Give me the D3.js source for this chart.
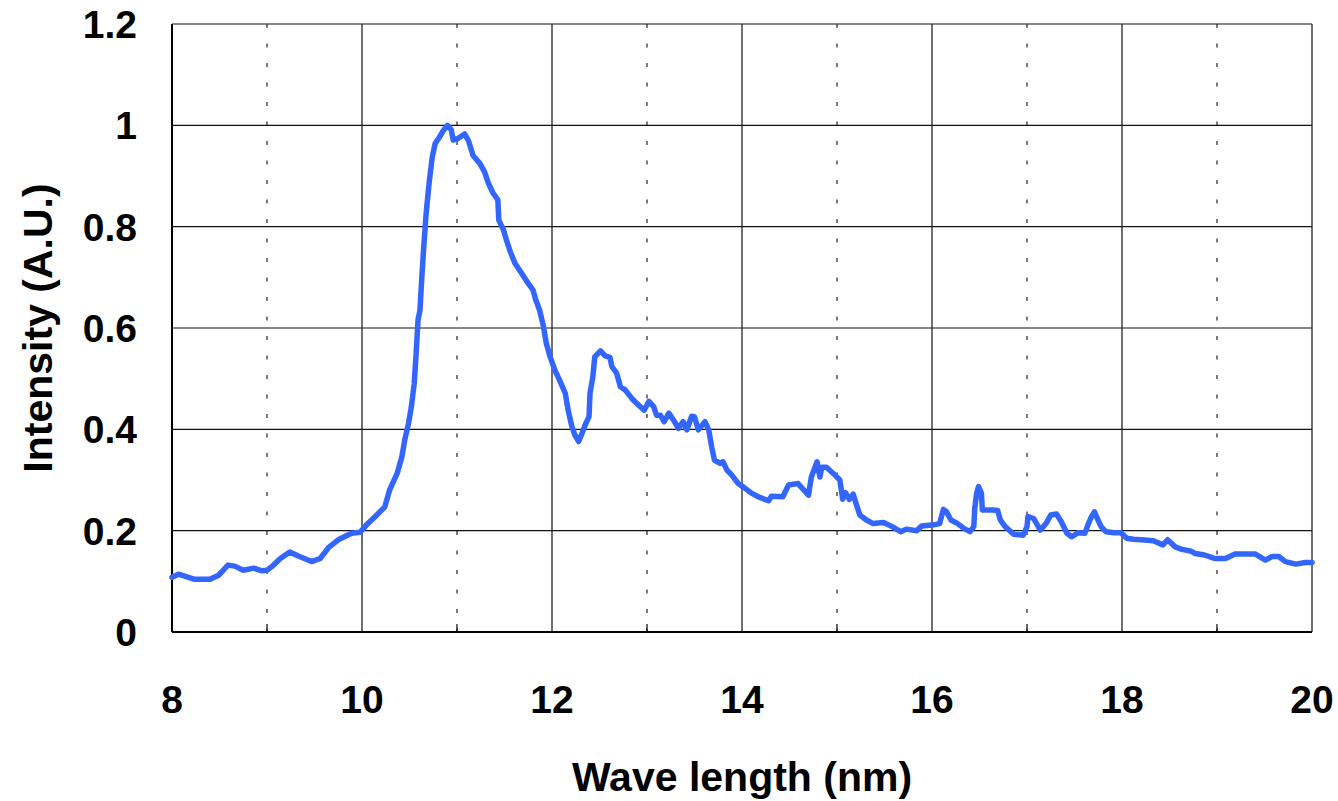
<!DOCTYPE html>
<html lang="en">
<head>
    <meta charset="UTF-8">
    <title>Intensity vs Wave length</title>
    <script src="https://d3js.org/d3.v7.min.js"></script>
    <style>
        body { margin: 0; background: #fff; }
        svg text { font-family: "Liberation Sans", Arial, sans-serif; font-weight: bold; fill: #000; }
    </style>
</head>
<body>
<div id="chart"></div>
<script>
    // spectrum
    const wavelength = [
        8.00, 8.07, 8.14, 8.24, 8.40, 8.49, 8.56, 8.59, 8.66, 8.75, 8.86, 8.94, 9.00, 9.05, 9.14, 9.24,
        9.33, 9.47, 9.56, 9.65, 9.75, 9.89, 9.98, 10.05, 10.14, 10.24, 10.29, 10.37, 10.42, 10.45, 10.49,
        10.52, 10.55, 10.57, 10.59, 10.61, 10.63, 10.65, 10.67, 10.68, 10.71, 10.74, 10.77, 10.82, 10.86,
        10.90, 10.94, 10.96, 11.01, 11.08, 11.12, 11.17, 11.24, 11.29, 11.33, 11.38, 11.43, 11.44, 11.49,
        11.52, 11.56, 11.61, 11.68, 11.75, 11.80, 11.83, 11.87, 11.91, 11.94, 11.98, 12.03, 12.08, 12.14,
        12.17, 12.21, 12.24, 12.28, 12.31, 12.35, 12.39, 12.40, 12.43, 12.45, 12.51, 12.56, 12.61, 12.63,
        12.68, 12.72, 12.77, 12.84, 12.91, 12.97, 13.02, 13.07, 13.10, 13.14, 13.18, 13.23, 13.28, 13.33,
        13.38, 13.42, 13.47, 13.50, 13.54, 13.61, 13.65, 13.68, 13.71, 13.77, 13.80, 13.84, 13.89, 13.96,
        14.03, 14.10, 14.17, 14.28, 14.31, 14.43, 14.49, 14.59, 14.70, 14.73, 14.79, 14.82, 14.84, 14.89,
        14.96, 15.03, 15.06, 15.09, 15.13, 15.17, 15.20, 15.24, 15.31, 15.38, 15.49, 15.58, 15.67, 15.73,
        15.84, 15.89, 16.00, 16.08, 16.12, 16.15, 16.20, 16.27, 16.34, 16.40, 16.44, 16.45, 16.47, 16.49,
        16.52, 16.53, 16.64, 16.69, 16.72, 16.77, 16.86, 16.96, 17.00, 17.01, 17.07, 17.14, 17.20, 17.25,
        17.31, 17.36, 17.42, 17.47, 17.54, 17.61, 17.64, 17.68, 17.71, 17.74, 17.78, 17.83, 17.92, 17.99,
        18.05, 18.12, 18.20, 18.33, 18.43, 18.48, 18.56, 18.63, 18.72, 18.77, 18.87, 18.98, 19.09, 19.19,
        19.30, 19.40, 19.51, 19.58, 19.65, 19.72, 19.83, 19.93, 20.00
    ];
    const intensity = [
        0.108, 0.114, 0.110, 0.104, 0.104, 0.112, 0.126, 0.132, 0.130, 0.122, 0.126, 0.121, 0.122, 0.129, 0.145, 0.158,
        0.150, 0.139, 0.145, 0.167, 0.182, 0.195, 0.197, 0.212, 0.228, 0.247, 0.280, 0.313, 0.346, 0.379, 0.412,
        0.445, 0.491, 0.550, 0.616, 0.635, 0.701, 0.760, 0.813, 0.836, 0.892, 0.938, 0.964, 0.978, 0.991,
        1.000, 0.991, 0.971, 0.974, 0.983, 0.970, 0.940, 0.925, 0.908, 0.886, 0.866, 0.853, 0.813, 0.793,
        0.774, 0.751, 0.728, 0.708, 0.688, 0.675, 0.655, 0.635, 0.603, 0.570, 0.543, 0.517, 0.497, 0.471,
        0.438, 0.405, 0.389, 0.376, 0.389, 0.409, 0.425, 0.471, 0.504, 0.543, 0.555, 0.545, 0.542, 0.524,
        0.511, 0.484, 0.478, 0.461, 0.448, 0.438, 0.455, 0.445, 0.428, 0.428, 0.415, 0.432, 0.418, 0.402,
        0.415, 0.399, 0.426, 0.425, 0.399, 0.415, 0.399, 0.366, 0.339, 0.333, 0.336, 0.320, 0.310, 0.293,
        0.284, 0.274, 0.267, 0.259, 0.268, 0.267, 0.290, 0.293, 0.270, 0.306, 0.336, 0.306, 0.325, 0.325,
        0.313, 0.300, 0.262, 0.275, 0.262, 0.272, 0.254, 0.231, 0.221, 0.214, 0.216, 0.208, 0.198, 0.203,
        0.200, 0.209, 0.211, 0.214, 0.242, 0.238, 0.221, 0.214, 0.204, 0.198, 0.208, 0.244, 0.274, 0.287,
        0.274, 0.241, 0.241, 0.240, 0.221, 0.208, 0.193, 0.191, 0.208, 0.228, 0.224, 0.201, 0.214, 0.231,
        0.233, 0.218, 0.195, 0.188, 0.196, 0.195, 0.211, 0.228, 0.237, 0.224, 0.208, 0.198, 0.196, 0.196,
        0.185, 0.183, 0.182, 0.180, 0.172, 0.182, 0.168, 0.163, 0.160, 0.155, 0.152, 0.145, 0.145, 0.154,
        0.154, 0.154, 0.142, 0.149, 0.149, 0.139, 0.134, 0.137, 0.137
    ];
    const xMajorTicks = [8, 10, 12, 14, 16, 18, 20];
    const xMinorTicks = [9, 11, 13, 15, 17, 19];
    const yTicks = [0, 0.2, 0.4, 0.6, 0.8, 1, 1.2];

    const width = 1338, height = 801;
    const margin = { top: 24, right: 26, bottom: 169, left: 172 };

    const svg = d3.select("#chart").append("svg")
        .attr("width", width)
        .attr("height", height);

    const x = d3.scaleLinear().domain([8, 20]).range([margin.left, width - margin.right]);
    const y = d3.scaleLinear().domain([0, 1.2]).range([height - margin.bottom, margin.top]);

    // horizontal grid
    svg.append("g")
        .selectAll("line")
        .data(yTicks)
        .join("line")
        .attr("x1", x(8)).attr("x2", x(20))
        .attr("y1", d => y(d)).attr("y2", d => y(d))
        .attr("stroke", "#111")
        .attr("stroke-width", 1.2);

    // vertical grid - solid at even, dotted at odd
    svg.append("g")
        .selectAll("line")
        .data(xMajorTicks)
        .join("line")
        .attr("x1", d => x(d)).attr("x2", d => x(d))
        .attr("y1", y(0)).attr("y2", y(1.2))
        .attr("stroke", "#111")
        .attr("stroke-width", 1.2);

    svg.append("g")
        .selectAll("line")
        .data(xMinorTicks)
        .join("line")
        .attr("x1", d => x(d)).attr("x2", d => x(d))
        .attr("y1", y(1.2)).attr("y2", y(0))
        .attr("stroke", "#222")
        .attr("stroke-width", 1.2)
        .attr("stroke-dasharray", "4,15.5");

    // minor ticks on the bottom axis
    svg.append("g")
        .selectAll("line")
        .data(xMinorTicks)
        .join("line")
        .attr("x1", d => x(d)).attr("x2", d => x(d))
        .attr("y1", y(0)).attr("y2", y(0) - 8)
        .attr("stroke", "#000")
        .attr("stroke-width", 1.2);

    // axis lines
    svg.append("line")
        .attr("x1", x(8)).attr("x2", x(20))
        .attr("y1", y(0)).attr("y2", y(0))
        .attr("stroke", "#000").attr("stroke-width", 2);
    svg.append("line")
        .attr("x1", x(8)).attr("x2", x(8))
        .attr("y1", y(0)).attr("y2", y(1.2))
        .attr("stroke", "#000").attr("stroke-width", 2);

    // tick labels
    svg.append("g")
        .selectAll("text")
        .data(xMajorTicks)
        .join("text")
        .attr("x", d => x(d))
        .attr("y", 713)
        .attr("text-anchor", "middle")
        .attr("font-size", "39px")
        .text(d => d);

    svg.append("g")
        .selectAll("text")
        .data(yTicks)
        .join("text")
        .attr("x", 137)
        .attr("y", d => y(d) + 14)
        .attr("text-anchor", "end")
        .attr("font-size", "39px")
        .text(d => d3.format("~g")(d));

    // axis titles
    svg.append("text")
        .attr("x", (x(8) + x(20)) / 2)
        .attr("y", 791)
        .attr("text-anchor", "middle")
        .attr("font-size", "41px")
        .text("Wave length (nm)");

    svg.append("text")
        .attr("transform", `translate(52, ${(y(0) + y(1.2)) / 2}) rotate(-90)`)
        .attr("text-anchor", "middle")
        .attr("font-size", "41px")
        .text("Intensity (A.U.)");

    // spectrum line
    const points = wavelength.map((w, i) => [w, intensity[i]]);
    const line = d3.line()
        .x(d => x(d[0]))
        .y(d => y(d[1]));

    svg.append("path")
        .datum(points)
        .attr("fill", "none")
        .attr("stroke", "#3366FF")
        .attr("stroke-width", 5.5)
        .attr("stroke-linejoin", "round")
        .attr("stroke-linecap", "round")
        .attr("d", line);
</script>
</body>
</html>
